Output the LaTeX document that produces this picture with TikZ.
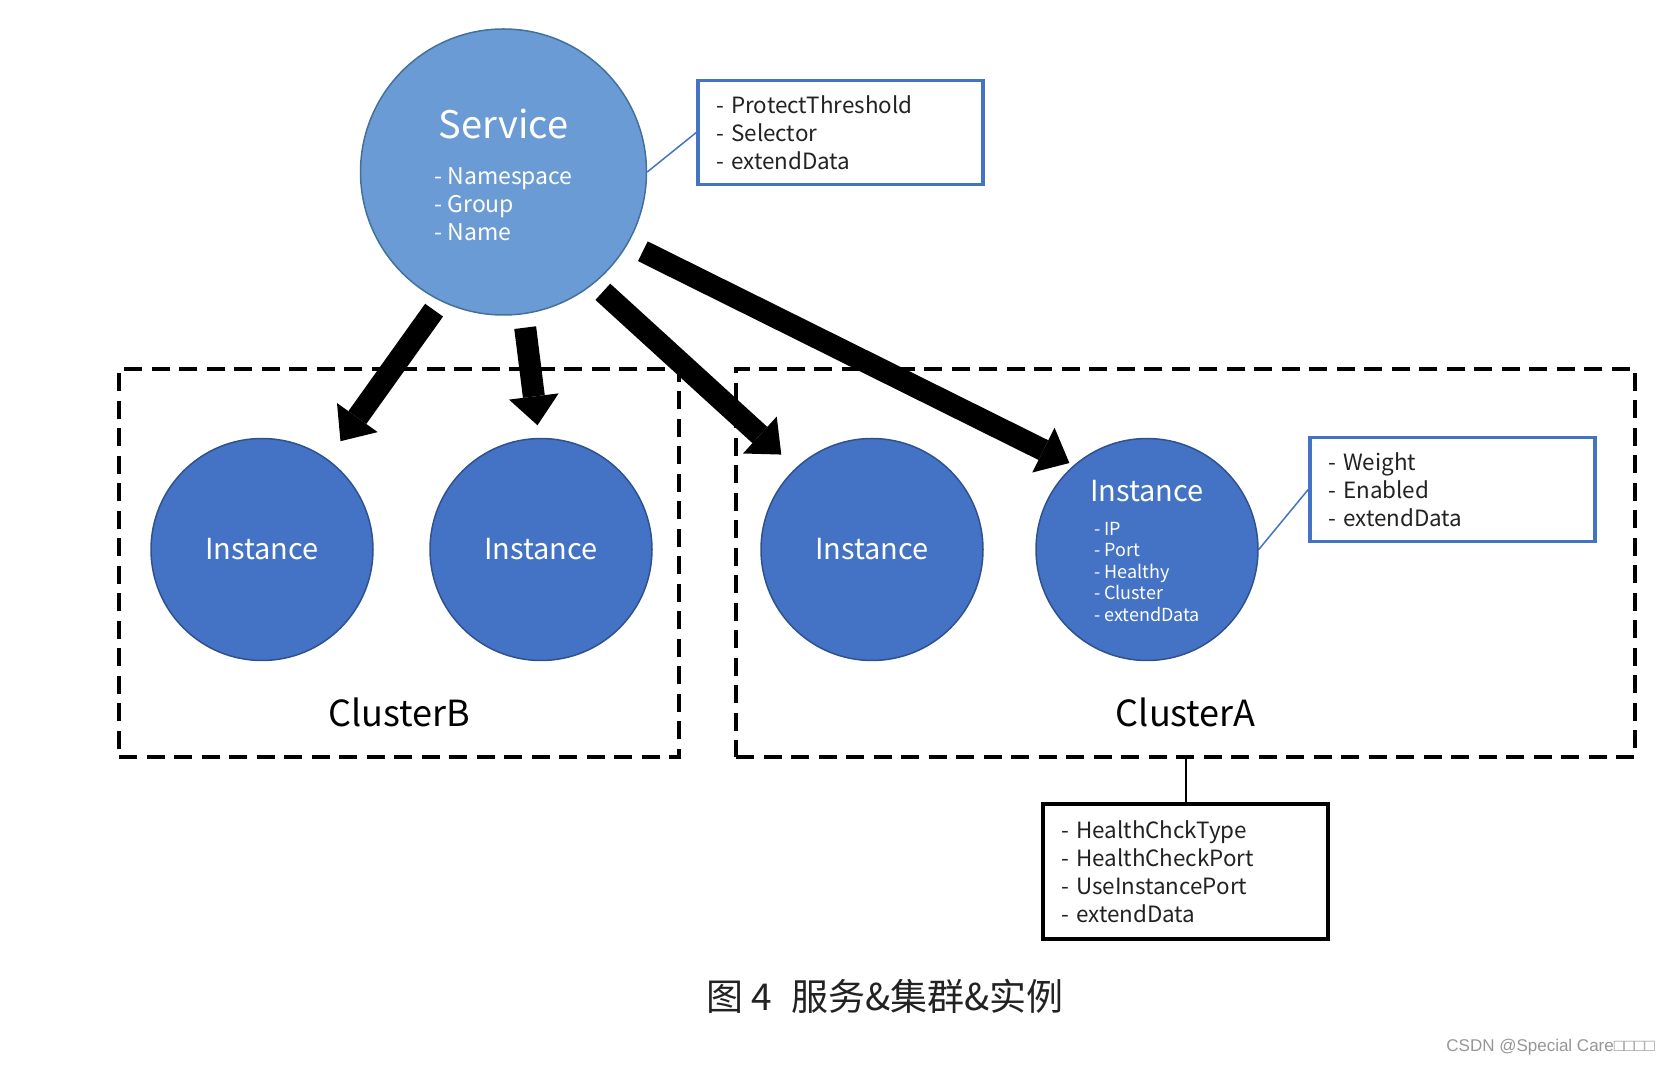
\documentclass[tikz,border=0pt]{standalone}
\usepackage{fontspec}
\setmainfont{Noto Sans CJK SC}
\newfontfamily\wmfont{Liberation Sans}
\usetikzlibrary{arrows.meta,positioning}
\definecolor{svcblue}{RGB}{106,155,212}
\definecolor{svcedge}{RGB}{65,113,156}
\definecolor{instblue}{RGB}{68,114,196}
\definecolor{instedge}{RGB}{47,82,143}
\definecolor{txtgray}{RGB}{34,34,34}
\tikzstyle{svcnode}=[circle,draw=svcedge,line width=0.75pt,fill=svcblue,minimum size=143pt,inner sep=0pt,text=white,align=center]
\tikzstyle{inst}=[circle,draw=instedge,line width=0.75pt,fill=instblue,minimum size=111pt,inner sep=0pt,text=white,align=center,font=\fontsize{14.5pt}{17pt}\selectfont]
\tikzstyle{cluster}=[draw,line width=2pt,dash pattern=on 9pt off 4.75pt,inner sep=0pt,minimum height=194pt]
\tikzstyle{clname}=[inner sep=0pt,font=\fontsize{18pt}{22pt}\selectfont]
\tikzstyle{props}=[draw=instblue,line width=1.75pt,minimum width=142.5pt,minimum height=52pt,inner xsep=9pt,text width=124.5pt,align=left,text=txtgray,font=\fontsize{11.2pt}{14pt}\selectfont]
\tikzstyle{big}=[line width=11pt,->]
\tikzstyle{thinline}=[draw=instblue,line width=0.75pt]

\begin{document}
\begin{tikzpicture}[
      x=0.5pt,y=-0.5pt,
      >={Triangle[length=14.5pt,width=25pt,line width=0pt]}
    ]
      \useasboundingbox (0,0) rectangle (1676,1068);

      \node [cluster,minimum width=280pt] (clB) at (399,563) {};
      \node [cluster,minimum width=449.5pt] (clA) at (1185.5,563) {};
      \node [clname] (clBname) [above=16pt of clB.south] {ClusterB};
      \node [clname] (clAname) [above=16pt of clA.south] {ClusterA};

      \node [svcnode] (svc) at (503.5,172) {\fontsize{19pt}{23pt}\selectfont\rule{0pt}{21.5pt}Service\\[11pt]
        \fontsize{11.5pt}{14pt}\selectfont\begin{tabular}[t]{@{}l@{}}- Namespace\\- Group\\- Name\end{tabular}};

      \node [inst] (inst1) at (262,549.5) {Instance};
      \node [inst] (inst2) [node distance=139.5pt,right of=inst1] {Instance};
      \node [inst] (inst3) [node distance=165.5pt,right of=inst2] {Instance};
      \node [inst] (inst4) [node distance=137.5pt,right of=inst3] {\rule{0pt}{15pt}Instance\\[0pt]
        \fontsize{9pt}{10.8pt}\selectfont\begin{tabular}[t]{@{}l@{}}- IP\\- Port\\- Healthy\\- Cluster\\- extendData\end{tabular}};

      \node [props] (sp) at (840.5,132.5) {- ProtectThreshold\\- Selector\\- extendData};
      \node [props] (ip) at (1452.5,489.5) {- Weight\\- Enabled\\- extendData};
      \node [props,draw=black,line width=2pt,minimum height=67.5pt] (cp) [node distance=154.25pt,below of=clA] {- HealthChckType\\- HealthCheckPort\\- UseInstancePort\\- extendData};

      \draw [thinline] (svc.east) -- (sp.west);
      \draw [thinline] (inst4.east) -- (ip.west);
      \draw [line width=1pt] (clA.south) -- (cp.north);

      \draw [big,shorten <=5.5pt,shorten >=11pt] (svc.-116.4) -- (inst1.54);
      \draw [big,shorten <=6.7pt,shorten >=6.3pt] (svc.-82.5) -- (inst2.91.4);
      \draw [big,shorten <=6pt,shorten >=9.8pt] (svc.-51.9) -- (inst3.133.6);
      \draw [big,shorten <=8.3pt,shorten >=2.4pt] (svc.-30.5) -- (inst4.131.7);

      \node [text=txtgray,font=\fontsize{18.5pt}{22pt}\selectfont] (cap) at (885,996) {图 4\enspace 服务\&集群\&实例};
      \node [anchor=east,text={rgb,255:red,150;green,150;blue,150},font=\wmfont\fontsize{8.5pt}{10pt}\selectfont] (wm) at (1662,1047.5) {CSDN @Special Care□□□□};
\end{tikzpicture}
\end{document}
